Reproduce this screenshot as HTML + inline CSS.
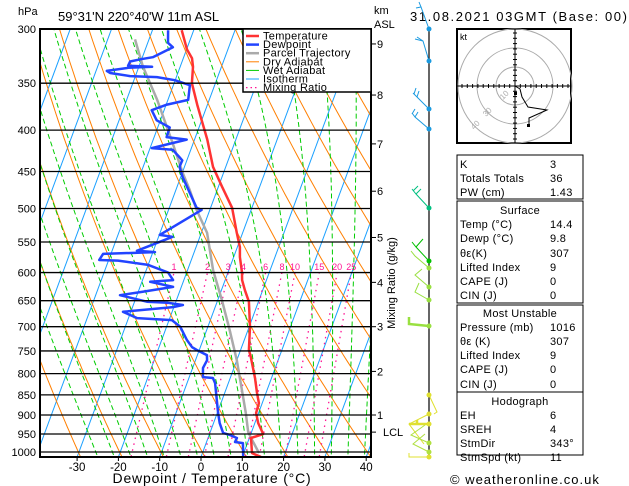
<!DOCTYPE html>
<html><head><meta charset="utf-8"><style>
html,body{margin:0;padding:0;background:#fff;}
svg{display:block;font-family:"Liberation Sans",sans-serif;}
</style></head><body>
<svg id="chart" width="629" height="486" viewBox="0 0 629 486" xmlns="http://www.w3.org/2000/svg">
<defs><clipPath id="plotclip"><rect x="40" y="29" width="331" height="428"/></clipPath></defs>
<rect x="0" y="0" width="629" height="486" fill="#fff"/>
<g id="bg" clip-path="url(#plotclip)"></g>
<g id="series" clip-path="url(#plotclip)"></g>
<g id="axes"></g>
<text x="18" y="15" font-size="11">hPa</text>
<text x="58" y="21" font-size="13">59°31'N  220°40'W  11m  ASL</text>
<text x="374" y="14" font-size="11">km</text>
<text x="374" y="28" font-size="11">ASL</text>
<text x="410" y="21" font-size="13" letter-spacing="1.6">31.08.2021  03GMT  (Base: 00)</text>
<text x="395" y="283" font-size="11" transform="rotate(-90 395 283)" text-anchor="middle">Mixing Ratio (g/kg)</text>
<text x="212" y="483" font-size="14" letter-spacing="0.8" text-anchor="middle">Dewpoint / Temperature (°C)</text>
<text x="450" y="484" font-size="13" letter-spacing="1">© weatheronline.co.uk</text>
<g id="legend"></g>
<g id="winds"></g>
<g id="hodo"></g>
<g id="table"></g>
</svg>
<script>
var tempP=[1014,1003,961,950,921,895,870,845,810,763,748,700,652,631,613,600,574,558,536,499,470,444,411,389,372,350,334,326,318,301];
var tempT=[14.5,12.0,10.4,13.0,10.8,9.4,9.2,7.8,6.0,3.1,2.0,0.2,-2.3,-4.3,-5.9,-6.6,-8.5,-9.4,-11.4,-14.8,-19.1,-23.1,-26.9,-30.0,-32.5,-35.7,-36.9,-37.9,-39.9,-42.9];
var dewP=[1014,975,972,961,953,947,921,895,822,810,808,787,770,759,748,742,727,700,687,683,671,662,658,654,652,640,634,625,616,613,600,587,580,579,569,566,564,542,539,502,499,458,444,436,432,423,421,411,408,397,389,378,372,367,352,347,344,343,340,338,335,334,333,329,327,325,316,312,301];
var dewT=[10.2,8.9,6.9,7.0,5.1,3.2,1.5,0.2,-3.2,-4.2,-6.7,-7.5,-7.2,-7.7,-10.6,-12.0,-13.9,-16.7,-19.3,-27.9,-31.9,-20.2,-18.0,-21.8,-27.0,-34.1,-29.1,-22.0,-28.0,-22.6,-24.5,-30.0,-37.7,-42.3,-41.9,-29.5,-34.0,-26.6,-29.9,-22.0,-23.4,-29.4,-31.2,-31.1,-32.1,-34.4,-39.6,-31.9,-37.0,-37.1,-40.9,-43.0,-39.8,-35.1,-36.0,-40.1,-44.7,-51.3,-56.4,-57.4,-52.5,-46.8,-52.7,-52.6,-50.3,-47.5,-43.5,-45.1,-46.2];
var parcelP=[1003,966,945,895,838,770,707,649,596,536,502,474,451,415,389,367,334,309];
var parcelT=[13.7,10.8,9.2,6.9,3.9,0.0,-4.4,-9.0,-13.8,-18.6,-23.2,-26.7,-30.0,-35.0,-39.0,-42.6,-49.0,-53.4];
var pressureTicks=[300,350,400,450,500,550,600,650,700,750,800,850,900,950,1000];
var tempTicks=[-30,-20,-10,0,10,20,30,40];
var isotherms=[-120,-110,-100,-90,-80,-70,-60,-50,-40,-30,-20,-10,0,10,20,30,40];
var mixRatios=[1,2,3,4,6,8,10,15,20,25];
var kmTicks=[1,2,3,4,5,6,7,8,9];
var kmPressures=[900,795,700,617,543,476,416,362,313];

var NS="http://www.w3.org/2000/svg";
function Y(p){return 452-351.3*Math.log(1000/p);}
function X(T,p){return 201+4.13*T+0.37*(457-Y(p));}
function mk(tag,attrs,parent){var e=document.createElementNS(NS,tag);for(var k in attrs)e.setAttribute(k,attrs[k]);parent.appendChild(e);return e;}
function pathFrom(pts){return pts.map(function(q,i){return (i?'L':'M')+q[0].toFixed(1)+' '+q[1].toFixed(1);}).join(' ');}
var bg=document.getElementById('bg'),ser=document.getElementById('series'),ax=document.getElementById('axes');

isotherms.forEach(function(t){
  var e=mk('path',{d:pathFrom([[X(t,1030),Y(1030)],[X(t,280),Y(280)]]),stroke:'#1aa0ff','stroke-width':1,fill:'none'},bg);
  
  
});
for(var th=213;th<=480;th+=10){
  var pts=[];for(var p=1030;p>=280;p-=10){pts.push([X(th*Math.pow(p/1000,0.286)-273.15,p),Y(p)]);}
  var e=mk('path',{d:pathFrom(pts),stroke:'#ff7f00','stroke-width':1,fill:'none'},bg);
  
  
}
function es(T){return 6.112*Math.exp(17.67*T/(T+243.5));}
for(var t0=-24;t0<=40;t0+=4){
  var T=t0,pts=[],p=1030;
  while(p>=280){
    pts.push([X(T,p),Y(p)]);
    var Tk=T+273.15,e=es(T),rs=0.622*e/(p-e);
    var dTdp=(287*Tk+2.5e6*rs)/(p*(1004+2.5e6*2.5e6*rs*0.622/(287*Tk*Tk)));
    T-=dTdp*5;p-=5;
  }
  var el=mk('path',{d:pathFrom(pts),stroke:'#00cc00','stroke-width':1,fill:'none','stroke-dasharray':'5,3'},bg);
  
  
}
mixRatios.forEach(function(w){
  var pts=[];[1030,600].forEach(function(p){var e=w*p/(622+w),l=Math.log(e/6.112);var td=243.5*l/(17.67-l);pts.push([X(td,p),Y(p)]);});
  var el=mk('path',{d:pathFrom(pts),stroke:'#ff1493','stroke-width':1.3,fill:'none','stroke-dasharray':'1.5,4.5'},bg);
  
  
  var t=mk('text',{x:pts[1][0],y:270,'font-size':9,fill:'#ff1493','text-anchor':'middle'},ax);
  t.textContent=w;
  
  
});
pressureTicks.forEach(function(p){
  var y=Y(p);
  var l=mk('line',{x1:40,x2:371,y1:y,y2:y,stroke:'#000','stroke-width':1.3},ax);
  
  
  var t=mk('text',{x:36,y:y+4,'font-size':11,'text-anchor':'end'},ax);
  t.textContent=p;
  
  
});
tempTicks.forEach(function(t){
  var x=201+4.13*t;
  var l=mk('line',{x1:x,x2:x,y1:457,y2:461,stroke:'#000'},ax);
  
  
  var tx=mk('text',{x:x,y:471,'font-size':11.5,'text-anchor':'middle'},ax);
  tx.textContent=t;
  
  
});
kmTicks.forEach(function(k,i){
  var y=Y(kmPressures[i]);
  var l=mk('line',{x1:371,x2:376,y1:y,y2:y,stroke:'#000'},ax);
  
  
  var t=mk('text',{x:377,y:y+4,'font-size':11},ax);
  t.textContent=k;
  
  
});
(function(){var y=Y(945);var l=mk('line',{x1:371,x2:376,y1:y,y2:y,stroke:'#000'},ax);


var t=mk('text',{x:383,y:y+4,'font-size':11},ax);t.textContent='LCL';

})();
var fr=mk('rect',{x:40,y:29,width:331,height:428,fill:'none',stroke:'#000','stroke-width':2},ax);



function drawProfile(P,T,color,w,name){
  var pts=P.map(function(p,i){return [X(T[i],p),Y(p)];});
  var e=mk('path',{d:pathFrom(pts),stroke:color,'stroke-width':w,fill:'none','stroke-linejoin':'round'},ser);
  
  
}
drawProfile(parcelP,parcelT,'#aaaaaa',2.5,'parcel-trajectory');
drawProfile(tempP,tempT,'#ff3333',2.5,'temperature-line');
drawProfile(dewP,dewT,'#2244ff',2.5,'dewpoint-line');

var lg=document.getElementById('legend');
mk('rect',{x:243,y:29,width:128,height:63,fill:'#fff',stroke:'#000','stroke-width':1.5},lg);
var legNames=['Temperature','Dewpoint','Parcel Trajectory','Dry Adiabat','Wet Adiabat','Isotherm','Mixing Ratio'];
var legCols=['#ff3333','#2244ff','#aaaaaa','#ff7f00','#00cc00','#1aa0ff','#ff1493'];
var legW=[2.5,2.5,2.5,1,1,1,1.3];
legNames.forEach(function(n,i){
  var y=36+i*8.6;
  var l=mk('line',{x1:246,x2:259,y1:y,y2:y,stroke:legCols[i],'stroke-width':legW[i],'stroke-dasharray':i==6?'1.5,3':'none'},lg);
  
  
  var t=mk('text',{x:263,y:y+3.5,'font-size':11,'letter-spacing':0.3},lg);
  t.textContent=n;
  
  
});

var wg=document.getElementById('winds');
mk('line',{x1:429,x2:429,y1:29,y2:457,stroke:'#000','stroke-width':1.2},wg);
var barbY=[29,61,109,129,208,261,268,287,300,326,395,414,424,443,452,457];
var barbCol=['#1a9ae0','#1a9ae0','#1a9ae0','#1a9ae0','#00c080','#00c000','#99e040','#99e040','#99e040','#99e040','#e0e030','#e0e030','#e0e030','#b0e040','#b0e040','#e0e030'];
var barbShapes=[
 'l-8,-22 l-5,1 m5,-1 l-2,-5 m2,5',
 'l-6,-20 l-8,-2 m8,2 l-6,-4',
 'l-12,-12 l-4,-4 m4,4 l2,-6 m-5,3 l2,-6',
 'l-14,-12 l-3,-4 m3,4 l3,-5 m-6,2 l3,-5',
 'l-13,-14 l-4,-5 m4,5 l5,-5 m-8,2 l5,-5',
 'l-13,-14 l-4,-5 m4,5 l7,-8',
 'l-14,-12 l-4,-5 m4,5',
 'l-14,-12 l7,-6',
 'l-14,-8 l4,-9',
 'l-20,-2 l0,-7',
 'l8,17 l-3,2',
 'l-20,10 l15,20',
 'l-20,0 m8,0 l0,-4',
 'l-18,-8 l14,-10',
 'l-16,-8 l12,-10',
 'l-20,0 l0,-4'
];
barbY.forEach(function(y,i){
  var p=mk('path',{d:'M429 '+y+' '+barbShapes[i],stroke:barbCol[i],'stroke-width':(i==9||i==12)?2.5:1,fill:'none'},wg);
  
  
  var c=mk('circle',{cx:429,cy:y,r:2.5,fill:barbCol[i]},wg);
  
  
});

var hg=document.getElementById('hodo');
mk('rect',{x:457,y:29,width:114,height:114,fill:'#fff',stroke:'#000','stroke-width':2},hg);
[19,38,57].forEach(function(r){mk('circle',{cx:515,cy:86,r:r,fill:'none',stroke:'#aaa','stroke-width':1},hg);});
mk('line',{x1:457,x2:571,y1:86,y2:86,stroke:'#000'},hg);
mk('line',{x1:515,x2:515,y1:29,y2:143,stroke:'#000'},hg);
for(var k=-10;k<=10;k++){mk('line',{x1:515+k*5.3,x2:515+k*5.3,y1:84,y2:88,stroke:'#000'},hg);mk('line',{y1:86+k*5.3,y2:86+k*5.3,x1:513,x2:517,stroke:'#000'},hg);}
var kt=mk('text',{x:460,y:40,'font-size':9},hg);kt.textContent='kt';
[['10',503,100],['30',486,117],['40',474,130]].forEach(function(a){var t=mk('text',{x:a[1],y:a[2],'font-size':8,fill:'#aaa',transform:'rotate(-45 '+a[1]+' '+a[2]+')'},hg);t.textContent=a[0];});
mk('path',{d:'M515 86 L520 89 L522 97 L528 107 L547 110 L529 118 L529 126',stroke:'#000','stroke-width':1,fill:'none'},hg);
mk('rect',{x:527,y:124,width:3,height:3,fill:'#000'},hg);
mk('rect',{x:514,y:92,width:3,height:3,fill:'#000'},hg);

var tg=document.getElementById('table');
[[155,199],[201,303],[305,392],[392,455]].forEach(function(b){mk('rect',{x:457,y:b[0],width:126,height:b[1]-b[0],fill:'none',stroke:'#000','stroke-width':1},tg);});
var rows=[['K','3',168],['Totals Totals','36',182],['PW (cm)','1.43',196],['Temp (°C)','14.4',228],['Dewp (°C)','9.8',242],['θε(K)','307',257],['Lifted Index','9',271],['CAPE (J)','0',285],['CIN (J)','0',299],['Pressure (mb)','1016',331],['θε (K)','307',345],['Lifted Index','9',359],['CAPE (J)','0',373],['CIN (J)','0',388],['EH','6',419],['SREH','4',433],['StmDir','343°',447],['StmSpd (kt)','11',461]];
rows.forEach(function(r){
  var a=mk('text',{x:460,y:r[2],'font-size':11,'letter-spacing':0.3},tg);a.textContent=r[0];
  
  
  var b=mk('text',{x:550,y:r[2],'font-size':11,'letter-spacing':0.3},tg);b.textContent=r[1];
  
  
});
[['Surface',214],['Most Unstable',317],['Hodograph',405]].forEach(function(h){
  var t=mk('text',{x:520,y:h[1],'font-size':11,'letter-spacing':0.3,'text-anchor':'middle'},tg);t.textContent=h[0];
  
  
});
</script>
</body></html>
